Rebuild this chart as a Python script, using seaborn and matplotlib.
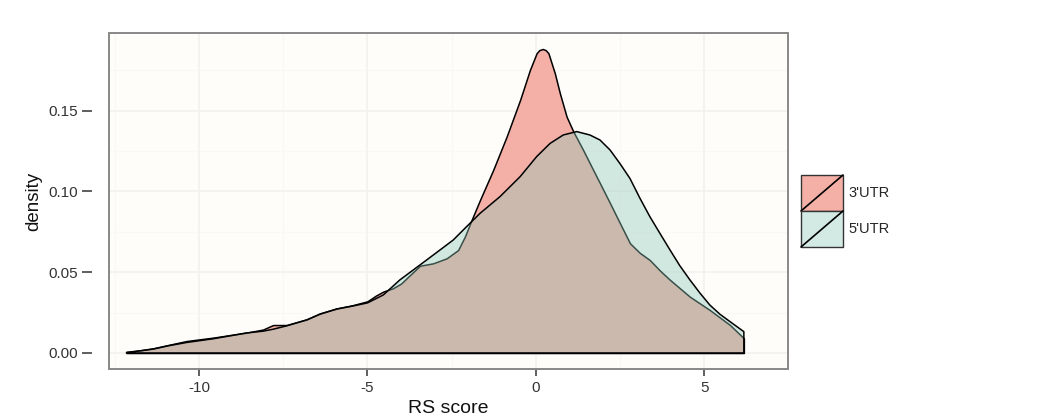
import numpy as np
import pandas as pd
import seaborn as sns
import matplotlib
matplotlib.use("Agg")
import matplotlib.pyplot as plt
from matplotlib.patches import Rectangle, Patch
from matplotlib.lines import Line2D
from matplotlib.legend_handler import HandlerBase

# densita' (RS score -> density)
x_3utr = [-12.15, -11.8, -11.36, -10.9, -10.37, -9.58, -8.59, -8.1, -7.8, -7.4,
          -6.8, -6.41, -5.91, -5.45, -5.0, -4.75, -4.53, -4.25, -4.0, -3.75,
          -3.44, -3.05, -2.65, -2.31, -2.11, -1.91, -1.66, -1.27, -0.87, -0.47,
          -0.18, 0.02, 0.1, 0.2, 0.29, 0.37, 0.56, 0.71, 0.91, 1.11, 1.4, 1.7,
          1.9, 2.2, 2.5, 2.79, 3.08, 3.38, 3.68, 3.98, 4.57, 5.16,
          5.76, 6.17]
y_3utr = [0.0005, 0.0015, 0.0029, 0.005, 0.0074, 0.0095, 0.0126, 0.0145, 0.0173, 0.0173,
          0.0208, 0.0245, 0.0276, 0.0295, 0.032, 0.0355, 0.038, 0.040, 0.043, 0.048,
          0.054, 0.0555, 0.0586, 0.0637, 0.072, 0.0823, 0.0947, 0.1132, 0.1339, 0.1566,
          0.1751, 0.1855, 0.1874, 0.1881, 0.1874, 0.1855, 0.1731, 0.1607, 0.1462, 0.137,
          0.1256, 0.1132,
          0.105, 0.0926, 0.080, 0.0679, 0.062, 0.0575, 0.051, 0.0452, 0.0348, 0.0266,
          0.0173, 0.0091]

x_5utr = [-12.15, -11.8, -11.36, -10.9, -10.37, -9.58, -8.59, -8.1, -7.8, -7.4,
          -6.8, -6.41, -5.91, -5.45, -5.0, -4.53, -4.04, -3.44, -2.85, -2.45,
          -2.26, -1.66, -1.07, -0.47, 0.02, 0.42, 0.81, 1.21, 1.6, 1.9,
          2.2, 2.5, 2.79, 3.08, 3.38, 3.68, 3.98, 4.27, 4.57, 4.87,
          5.16, 5.46, 5.76, 6.17]
y_5utr = [0.0004, 0.0012, 0.0024, 0.0045, 0.0065, 0.0088, 0.0124, 0.0135, 0.0147, 0.0168,
          0.0205, 0.024, 0.0272, 0.029, 0.031, 0.0359, 0.0452, 0.0545, 0.0637, 0.070,
          0.074, 0.0864, 0.0967, 0.1091, 0.1215, 0.1297, 0.1349, 0.137, 0.1349, 0.1318,
          0.1256, 0.117, 0.108, 0.096, 0.0844, 0.074, 0.0637, 0.054, 0.0452, 0.037,
          0.0297, 0.024, 0.0194, 0.0132]

labels = ["3'UTR", "5'UTR"]
x_ticks = [-10, -5, 0, 5]
y_ticks = [0.00, 0.05, 0.10, 0.15]
y_ticklabels = ["0.00", "0.05", "0.10", "0.15"]

red = "#F4B0A6"
teal = "#8FC9BB"
teal_key = "#D3EAE4"

sns.set_theme(style="white")
plt.rcParams['font.family'] = ['Liberation Sans', 'DejaVu Sans']

fig = plt.figure(figsize=(10.42, 4.2), dpi=100)
ax = fig.add_axes([109 / 1042, 51 / 420, 679 / 1042, 336 / 420])
ax.set_facecolor("#FEFDF9")

# griglia molto chiara stile ggplot
for v in [-12.5, -7.5, -2.5, 2.5]:
    ax.axvline(v, color="#FAF8F4", lw=1, zorder=0)
for v in [0.025, 0.075, 0.125, 0.175]:
    ax.axhline(v, color="#FAF8F4", lw=1, zorder=0)
for v in x_ticks:
    ax.axvline(v, color="#F4F2EE", lw=1.2, zorder=0)
for v in y_ticks:
    ax.axhline(v, color="#F4F2EE", lw=1.2, zorder=0)

ax.fill_between(x_3utr, y_3utr, 0, facecolor=red, edgecolor="black", lw=1.1,
                joinstyle="round", zorder=2)
ax.fill_between(x_5utr, y_5utr, 0, facecolor=teal, alpha=0.4, edgecolor="none", zorder=3)
ax.fill_between(x_5utr, y_5utr, 0, facecolor="none", edgecolor="black", lw=1.1,
                joinstyle="round", zorder=3)

ax.set_xlim(-12.67, 7.48)
ax.set_ylim(-0.0099, 0.198)
ax.set_xticks(x_ticks)
ax.set_xticklabels([str(t) for t in x_ticks])
ax.set_yticks(y_ticks)
ax.set_yticklabels(y_ticklabels)

for s in ax.spines.values():
    s.set_visible(False)
ax.spines['left'].set_position(('outward', 12))
ax.add_patch(Rectangle((0, 0), 1, 1, transform=ax.transAxes, fill=False,
                       edgecolor="#888888", lw=1.4, clip_on=False, zorder=5))

ax.tick_params(axis='x', direction='out', length=5, width=1.1, color="#333333",
               labelsize=11, labelcolor="#333333", pad=4, bottom=True)
ax.tick_params(axis='y', direction='out', length=7, width=1.1, color="#333333",
               labelsize=11, labelcolor="#333333", pad=3, left=True)

ax.set_xlabel("RS score", fontsize=14, labelpad=3, color="#111111")
ax.set_ylabel("density", fontsize=13.5, labelpad=5, color="#111111")


class KeyHandler(HandlerBase):
    def create_artists(self, legend, orig_handle, xdescent, ydescent,
                       width, height, fontsize, trans):
        r = Rectangle((-xdescent, -ydescent), width, height,
                      facecolor=orig_handle.get_facecolor(), edgecolor="#333333",
                      lw=1, transform=trans)
        l = Line2D([-xdescent, -xdescent + width], [-ydescent, -ydescent + height],
                   color="black", lw=1.2, transform=trans)
        return [r, l]


handles = [Patch(facecolor=red), Patch(facecolor=teal_key)]
fig.legend(handles, labels, loc="upper left", bbox_to_anchor=(801 / 1042, 1 - 175 / 420),
           frameon=False, fontsize=10.5, handlelength=2.88, handleheight=3.42,
           labelspacing=0, handletextpad=0.35, borderpad=0, borderaxespad=0,
           handler_map={Patch: KeyHandler()})

fig.savefig("out.png", dpi=100)
